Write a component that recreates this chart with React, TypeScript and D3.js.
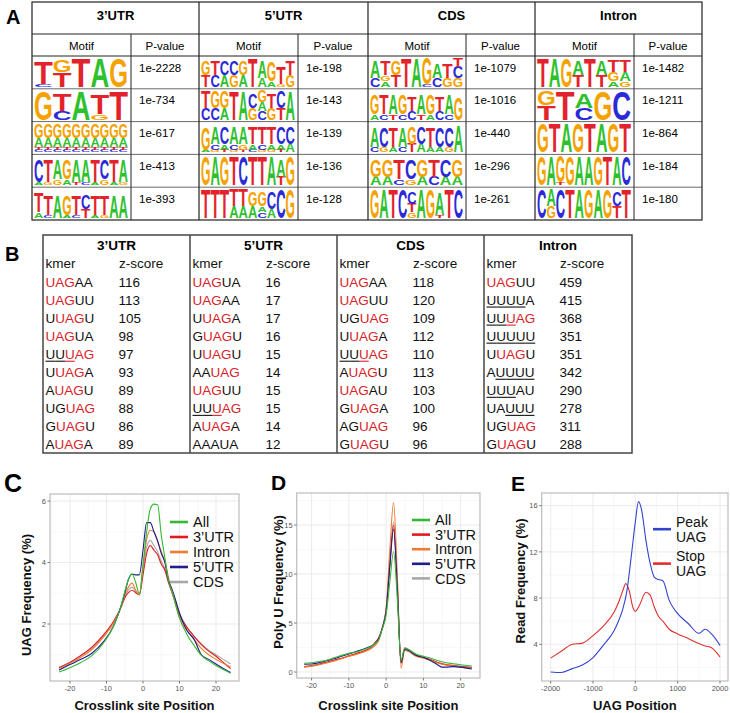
import * as d3 from "d3";

const FONT = "'Liberation Sans', Arial, Helvetica, sans-serif";
const RED = "#d8232a";
const INK = "#111";

// ---------- Panel A: motif logos (letter+weight per column, top letter first) ----------
const regions = ["3’UTR", "5’UTR", "CDS", "Intron"];

const motifs3UTR = [
  "T8C1 G4T5 T10 A10 G10",
  "G10 T6C3 A10 T7G2 T10",
  "G5A3T1C1 G5A3T1C1 G5A3T1C1 G5A3T1C1 G5A3T1C1 G5A3T1C1 G5A3T1C1 G5A3T1C1 G5A3T1C1 G5A3T1C1",
  "C8A1 T8G1 A7G2 G7A2 A8T1 A8C1 T8A1 C7G2 T8A1 A8G1",
  "T7A2 T7C1 A8 G7A1 T7C1 C5T3 T7A1 T7G1 A8 A8",
];
const pvals3UTR = ["1e-2228", "1e-734", "1e-617", "1e-413", "1e-393"];

const motifs5UTR = [
  "G5T4 T5C4 C5A4 C5G4 G5A4 T10 A6A3 G7A2 T6G1 T5G4",
  "T6C4 G6C4 G6A4 T10 A10 C5G4 G4A3C3 T5G4 C6T4 A10",
  "G8A1 A6C2G1 C6A2T1 A6C2G1 A6G2T1 T6A2C1 T6C2G1 T6A2G1 C6A2T1 C6A3",
  "G10 A10 G10 T10 C10 T10 T10 A10 A6T3 G10",
  "T10 T10 T10 T6A4 T6A4 G5A4 G5A2C2 C6A3 C10 G10",
];
const pvals5UTR = ["1e-198", "1e-143", "1e-139", "1e-136", "1e-128"];

const motifsCDS = [
  "A6C3 T5G2A2 G5T4 T10 A10 G9C1 A5C3 T5G3 T3C4G3",
  "G7A2 T7C2 A7T2 G7C2 T5C3 A7T2 G7A2 T5C3 A7C2 G8",
  "A7C2 C7G2 T7A2 A7C2 G6T3 C6A3 T7A2 C7A2 C7G2 A9",
  "G6A3 G6A3 T7C2 C7G2 G6A3 T6C3 C6A3 G6A3",
  "G10 A10 T10 C10 C4T3G2 A10 G10 A8T1 T10 C10",
];
const pvalsCDS = ["1e-1079", "1e-1016", "1e-440", "1e-296", "1e-261"];

const motifsIntron = [
  "T10 A10 G10 A5T4 T10 A5T4 T4G3A2 T4A3G2",
  "G5T5 T10 A5C4 G10 C10",
  "G10 T10 A10 G10 T10 A10 G10 T10",
  "G10 A10 G9T1 G10 A10 A10 G10 T10 A10 C10",
  "C10 A6G4 C10 T10 A10 G10 A10 G10 C5T4 T10",
];
const pvalsIntron = ["1e-1482", "1e-1211", "1e-864", "1e-184", "1e-180"];

const motifTable = [
  { motifs: motifs3UTR, pvals: pvals3UTR },
  { motifs: motifs5UTR, pvals: pvals5UTR },
  { motifs: motifsCDS, pvals: pvalsCDS },
  { motifs: motifsIntron, pvals: pvalsIntron },
];

// ---------- Panel B: kmer z-scores ----------
const kmers3UTR = ["UAGAA", "UAGUU", "UUAGU", "UAGUA", "UUUAG", "UUAGA", "AUAGU", "UGUAG", "GUAGU", "AUAGA"];
const z3UTR = [116, 113, 105, 98, 97, 93, 89, 88, 86, 89];
const kmers5UTR = ["UAGUA", "UAGAA", "UUAGA", "GUAGU", "UUAGU", "AAUAG", "UAGUU", "UUUAG", "AUAGA", "AAAUA"];
const z5UTR = [16, 17, 17, 16, 15, 14, 15, 15, 14, 12];
const kmersCDS = ["UAGAA", "UAGUU", "UGUAG", "UUAGA", "UUUAG", "AUAGU", "UAGAU", "GUAGA", "AGUAG", "GUAGU"];
const zCDS = [118, 120, 109, 112, 110, 113, 103, 100, 96, 96];
const kmersIntron = ["UAGUU", "UUUUA", "UUUAG", "UUUUU", "UUAGU", "AUUUU", "UUUAU", "UAUUU", "UGUAG", "GUAGU"];
const zIntron = [459, 415, 368, 351, 351, 342, 290, 278, 311, 288];

const kmerTable = [
  { kmers: kmers3UTR, z: z3UTR },
  { kmers: kmers5UTR, z: z5UTR },
  { kmers: kmersCDS, z: zCDS },
  { kmers: kmersIntron, z: zIntron },
];

// ---------- Panel C: UAG frequency ----------
const posC = [-23, -20, -17, -14, -11, -8, -6, -5, -4, -3, -2, -1, 0, 1, 2, 3, 4, 5, 6, 7, 8, 9, 10, 12, 14, 16, 18, 20, 22, 24];
const uagAll = [0.44, 0.58, 0.75, 0.97, 1.35, 1.95, 2.6, 3.05, 3.45, 3.63, 3.35, 2.97, 3.9, 5.0, 5.75, 5.9, 5.88, 4.9, 4.15, 3.4, 3.05, 2.6, 2.2, 1.67, 1.3, 0.98, 0.8, 0.65, 0.52, 0.4];
const uag3UTR = [0.58, 0.75, 0.98, 1.25, 1.62, 2.1, 2.55, 2.85, 3.02, 3.1, 3.02, 2.95, 3.6, 4.3, 4.55, 4.4, 4.25, 3.95, 3.75, 3.35, 3.0, 2.65, 2.3, 1.9, 1.6, 1.33, 1.12, 0.95, 0.75, 0.55];
const uagIntron = [0.55, 0.72, 0.92, 1.17, 1.55, 2.05, 2.55, 2.95, 3.2, 3.33, 3.1, 2.95, 3.9, 4.75, 5.05, 5.0, 4.7, 4.35, 4.05, 3.5, 3.05, 2.6, 2.2, 1.8, 1.5, 1.2, 1.0, 0.85, 0.72, 0.6];
const uag5UTR = [0.5, 0.68, 0.85, 1.05, 1.4, 1.95, 2.6, 3.0, 3.45, 3.62, 3.6, 3.6, 4.4, 5.3, 5.3, 5.0, 4.7, 4.3, 4.0, 3.4, 3.12, 2.75, 2.35, 1.8, 1.5, 1.0, 0.85, 0.7, 0.55, 0.42];
const uagCDS = [0.6, 0.76, 0.97, 1.22, 1.6, 2.08, 2.55, 2.9, 3.1, 3.2, 3.05, 2.95, 3.75, 4.5, 4.72, 4.55, 4.35, 4.05, 3.8, 3.35, 3.05, 2.7, 2.35, 1.9, 1.6, 1.35, 1.15, 1.0, 0.85, 0.7];

// ---------- Panel D: poly U frequency ----------
const posD = [-22, -20, -18, -16, -14, -12, -10, -8, -6, -4, -3, -2, -1, 0, 1, 2, 3, 4, 5, 6, 8, 10, 12, 14, 15, 16, 18, 20, 23];
const polyAll = [0.9, 0.95, 1.08, 1.2, 1.45, 1.7, 1.9, 2.05, 2.3, 2.6, 2.9, 3.3, 4.4, 5.8, 9.2, 12.3, 7.5, 1.2, 2.45, 2.3, 1.85, 1.6, 1.4, 1.15, 1.05, 0.95, 0.85, 0.75, 0.62];
const poly3UTR = [0.55, 0.65, 0.8, 1.0, 1.2, 1.4, 1.65, 1.9, 2.15, 2.55, 3.0, 3.5, 4.5, 6.3, 11.0, 15.0, 8.8, 0.9, 2.45, 2.3, 1.75, 1.5, 1.25, 0.95, 0.85, 0.75, 0.65, 0.55, 0.45];
const polyIntron = [0.5, 0.6, 0.75, 0.92, 1.12, 1.35, 1.6, 1.8, 2.05, 2.4, 2.7, 3.2, 4.6, 6.5, 12.5, 17.3, 9.9, 0.4, 2.2, 2.1, 1.6, 1.4, 1.2, 0.9, 0.8, 0.72, 0.6, 0.5, 0.4];
const poly5UTR = [0.8, 0.82, 0.95, 1.15, 1.35, 1.6, 1.85, 2.1, 2.35, 2.65, 2.9, 3.4, 4.5, 6.2, 10.8, 14.6, 8.6, 1.0, 2.3, 2.2, 1.7, 1.5, 1.15, 0.7, 0.5, 0.5, 0.55, 0.5, 0.3];
const polyCDS = [0.55, 0.62, 0.78, 0.95, 1.15, 1.38, 1.62, 1.85, 2.1, 2.5, 2.85, 3.4, 4.5, 6.3, 11.2, 15.3, 8.9, 1.0, 2.35, 2.25, 1.7, 1.45, 1.25, 0.95, 0.85, 0.78, 0.68, 0.6, 0.5];

// ---------- Panel E: read frequency around UAG ----------
const peakPos = [-2000, -1750, -1500, -1250, -1000, -750, -500, -400, -300, -200, -100, 0, 75, 150, 250, 350, 450, 550, 650, 800, 1000, 1250, 1500, 1650, 1800, 2000];
const peakUAG = [1.6, 1.55, 1.87, 2.2, 2.85, 3.95, 5.2, 6.0, 7.0, 8.6, 11.5, 14.6, 16.35, 15.6, 13.0, 11.0, 9.8, 9.6, 9.5, 7.8, 6.65, 5.8, 4.95, 5.3, 4.9, 3.9];
const stopPos = [-2000, -1750, -1500, -1250, -1000, -750, -500, -400, -300, -225, -150, -50, 0, 100, 250, 350, 450, 550, 650, 800, 1000, 1250, 1500, 1650, 1800, 2000];
const stopUAG = [2.8, 3.4, 3.98, 4.1, 4.75, 5.6, 6.8, 7.6, 8.6, 9.25, 8.7, 7.1, 6.85, 7.4, 8.5, 8.25, 7.2, 6.4, 6.0, 5.3, 4.9, 4.5, 4.06, 3.85, 3.7, 2.9];

const LETTER_COLOR: Record<string, string> = { A: "#2ec12e", C: "#2a2ad8", G: "#f5a200", T: "#e3232b" };
const CHAR_W: Record<string, number> = { A: 0.667, C: 0.722, G: 0.778, U: 0.722 };

function Logo({ x, y, w, h, motif }: { x: number; y: number; w: number; h: number; motif: string }) {
  const cols = motif.split(" ").map((c) =>
    Array.from(c.matchAll(/([ACGT])(\d+)/g)).map((m) => ({ l: m[1], v: +m[2] }))
  );
  const xs = d3.scaleBand<number>().domain(d3.range(cols.length)).range([x, x + w]);
  const hs = d3.scaleLinear().domain([0, 10]).range([0, h]);
  const out: JSX.Element[] = [];
  cols.forEach((col, i) => {
    let base = y + h;
    [...col].reverse().forEach((c, j) => {
      const lh = hs(c.v);
      out.push(
        <text key={`${i}-${j}`} x={xs(i)} y={base} fontSize={lh / 0.72} textLength={xs.bandwidth()}
          lengthAdjust="spacingAndGlyphs" fill={LETTER_COLOR[c.l]} fontWeight="bold" fontFamily={FONT}>
          {c.l}
        </text>
      );
      base -= lh;
    });
  });
  return <g>{out}</g>;
}

function Kmer({ x, y, s, fs }: { x: number; y: number; s: string; fs: number }) {
  const i = s.indexOf("UAG");
  const red = (k: number) => i >= 0 && k >= i && k < i + 3;
  const under = s.split("").map(() => false);
  for (const m of s.matchAll(/U{3,}/g)) for (let k = m.index!; k < m.index! + m[0].length; k++) under[k] = true;
  let off = 0;
  const lines: JSX.Element[] = [];
  s.split("").forEach((ch, k) => {
    const w = CHAR_W[ch] * fs;
    if (under[k]) lines.push(<line key={k} x1={x + off} x2={x + off + w} y1={y + 2.5} y2={y + 2.5} stroke={red(k) ? RED : INK} strokeWidth={1.1} />);
    off += w;
  });
  return (
    <g>
      <text x={x} y={y} fontSize={fs} fontFamily={FONT}>
        {s.split("").map((ch, k) => <tspan key={k} fill={red(k) ? RED : INK}>{ch}</tspan>)}
      </text>
      {lines}
    </g>
  );
}

function PanelA() {
  const groupX = [32, 199, 368, 535, 702];
  const subX = [131, 298, 466, 634];
  const rowY = d3.scaleLinear().domain([0, 5]).range([56, 220]);
  return (
    <g fontFamily={FONT}>
      <text x={6} y={24} fontSize={20} fontWeight="bold">A</text>
      {regions.map((r, g) => (
        <g key={r}>
          <text x={(groupX[g] + groupX[g + 1]) / 2} y={20} textAnchor="middle" fontSize={13} fontWeight="bold">{r}</text>
          <text x={(groupX[g] + subX[g]) / 2} y={50} textAnchor="middle" fontSize={11.5}>Motif</text>
          <text x={(subX[g] + groupX[g + 1]) / 2} y={50} textAnchor="middle" fontSize={11.5}>P-value</text>
          {motifTable[g].motifs.map((m, i) => (
            <g key={i}>
              <Logo x={groupX[g] + 2} y={rowY(i) + 2} w={subX[g] - groupX[g] - 5} h={rowY(i + 1) - rowY(i) - 4} motif={m} />
              <text x={subX[g] + 8} y={rowY(i) + 15.5} fontSize={11.5}>{motifTable[g].pvals[i]}</text>
            </g>
          ))}
          <line x1={subX[g]} x2={subX[g]} y1={34} y2={220} stroke="#222" />
        </g>
      ))}
      {d3.range(1, 5).map((i) => (
        <line key={i} x1={32} x2={702} y1={rowY(i)} y2={rowY(i)} stroke="#444" strokeWidth={0.8} />
      ))}
      <line x1={32} x2={702} y1={34} y2={34} stroke="#222" />
      <line x1={32} x2={702} y1={56} y2={56} stroke="#222" />
      {groupX.slice(1, 4).map((gx) => <line key={gx} x1={gx} x2={gx} y1={2} y2={220} stroke="#222" strokeWidth={1.2} />)}
      <rect x={32} y={2} width={670} height={218} fill="none" stroke="#222" strokeWidth={1.2} />
    </g>
  );
}

function PanelB() {
  const colX = [43, 190, 337, 484, 632];
  const rowY = d3.scaleLinear().domain([0, 9]).range([286.5, 449]);
  return (
    <g fontFamily={FONT}>
      <text x={5} y={261} fontSize={20} fontWeight="bold">B</text>
      {regions.map((r, g) => (
        <g key={r}>
          <text x={(colX[g] + colX[g + 1]) / 2} y={250} textAnchor="middle" fontSize={13.5} fontWeight="bold">{r}</text>
          <text x={colX[g] + 2.5} y={267.5} fontSize={13.5} fill={INK}>kmer</text>
          <text x={colX[g] + 76} y={267.5} fontSize={13.5} fill={INK}>z-score</text>
          {kmerTable[g].kmers.map((k, i) => (
            <g key={i}>
              <Kmer x={colX[g] + 2.5} y={rowY(i)} s={k} fs={13.5} />
              <text x={colX[g] + 75.5} y={rowY(i)} fontSize={13.5} fill={INK}>{kmerTable[g].z[i]}</text>
            </g>
          ))}
        </g>
      ))}
      {colX.slice(1, 4).map((cx) => <line key={cx} x1={cx} x2={cx} y1={235} y2={453} stroke="#444" strokeWidth={1.5} />)}
      <rect x={43} y={235} width={589} height={218} fill="none" stroke="#444" strokeWidth={1.5} />
    </g>
  );
}

interface Series { name: string; color: string; x: number[]; y: number[] }

interface PanelProps {
  box: [number, number, number, number];
  xDomain: [number, number];
  yDomain: [number, number];
  xTicks: number[];
  yTicks: number[];
  xMinor: number[];
  yMinor: number[];
  series: Series[];
  xTitle: string;
  yTitle: string;
  yTitlePos: [number, number];
  label: string;
  labelPos: [number, number, number];
  legend: { x: number; y: number; step: number; fs: number; items: { text: string[]; color: string }[] };
}

function LinePanel(p: PanelProps) {
  const [l, t, r, b] = p.box;
  const x = d3.scaleLinear().domain(p.xDomain).range([l, r]);
  const y = d3.scaleLinear().domain(p.yDomain).range([b, t]);
  const grid = "#ebebeb";
  const minor = "#f4f4f4";
  let ly = p.legend.y;
  return (
    <g fontFamily={FONT}>
      <text x={p.labelPos[0]} y={p.labelPos[1]} fontSize={p.labelPos[2]} fontWeight="bold">{p.label}</text>
      <rect x={l} y={t} width={r - l} height={b - t} fill="#fff" />
      {p.xMinor.map((v) => <line key={"xm" + v} x1={x(v)} x2={x(v)} y1={t} y2={b} stroke={minor} strokeWidth={0.6} />)}
      {p.yMinor.map((v) => <line key={"ym" + v} x1={l} x2={r} y1={y(v)} y2={y(v)} stroke={minor} strokeWidth={0.6} />)}
      {p.xTicks.map((v) => <line key={"xg" + v} x1={x(v)} x2={x(v)} y1={t} y2={b} stroke={grid} strokeWidth={1} />)}
      {p.yTicks.map((v) => <line key={"yg" + v} x1={l} x2={r} y1={y(v)} y2={y(v)} stroke={grid} strokeWidth={1} />)}
      {p.series.map((s) => {
        const line = d3.line<number>().x((_, i) => x(s.x[i])).y((v) => y(v)).curve(d3.curveMonotoneX);
        return <path key={s.name} d={line(s.y) ?? ""} fill="none" stroke={s.color} strokeWidth={1.1} />;
      })}
      <rect x={l} y={t} width={r - l} height={b - t} fill="none" stroke="#bdbdbd" strokeWidth={1.2} />
      {p.xTicks.map((v) => (
        <g key={"xt" + v}>
          <line x1={x(v)} x2={x(v)} y1={b} y2={b + 2.5} stroke="#777" />
          <text x={x(v)} y={b + 10} textAnchor="middle" fontSize={7.5} fill="#555">{v}</text>
        </g>
      ))}
      {p.yTicks.map((v) => (
        <g key={"yt" + v}>
          <line x1={l - 2.5} x2={l} y1={y(v)} y2={y(v)} stroke="#777" />
          <text x={l - 4} y={y(v)} dy="0.35em" textAnchor="end" fontSize={7.5} fill="#555">{v}</text>
        </g>
      ))}
      <text x={(l + r) / 2} y={710} textAnchor="middle" fontSize={13} fontWeight="bold" fill={INK}>{p.xTitle}</text>
      <text transform={`translate(${p.yTitlePos[0]},${p.yTitlePos[1]}) rotate(-90)`} textAnchor="middle" fontSize={13} fontWeight="bold" fill={INK}>{p.yTitle}</text>
      {p.legend.items.map((it) => {
        const n = it.text.length;
        const cy = ly + ((n - 1) * p.legend.fs * 1.1) / 2;
        const g = (
          <g key={it.text.join("")}>
            <line x1={p.legend.x} x2={p.legend.x + 18} y1={cy} y2={cy} stroke={it.color} strokeWidth={2.6} />
            {it.text.map((tx, k) => (
              <text key={k} x={p.legend.x + 23} y={ly + k * p.legend.fs * 1.1} dy="0.36em" fontSize={p.legend.fs} fill={INK}>{tx}</text>
            ))}
          </g>
        );
        ly += p.legend.step + (n - 1) * p.legend.fs * 1.1;
        return g;
      })}
    </g>
  );
}

const GREEN = "#35b835";
const RED3 = "#e31a1c";
const ORANGE = "#f07a30";
const NAVY = "#1e1e8c";
const GRAY = "#a8a8a8";

export default function App() {
  const seriesC: Series[] = [
    { name: "CDS", color: GRAY, x: posC, y: uagCDS },
    { name: "3UTR", color: RED3, x: posC, y: uag3UTR },
    { name: "Intron", color: ORANGE, x: posC, y: uagIntron },
    { name: "5UTR", color: NAVY, x: posC, y: uag5UTR },
    { name: "All", color: GREEN, x: posC, y: uagAll },
  ];
  const seriesD: Series[] = [
    { name: "CDS", color: GRAY, x: posD, y: polyCDS },
    { name: "3UTR", color: RED3, x: posD, y: poly3UTR },
    { name: "Intron", color: ORANGE, x: posD, y: polyIntron },
    { name: "5UTR", color: NAVY, x: posD, y: poly5UTR },
    { name: "All", color: GREEN, x: posD, y: polyAll },
  ];
  const legendCD = [
    { text: ["All"], color: GREEN },
    { text: ["3’UTR"], color: RED3 },
    { text: ["Intron"], color: ORANGE },
    { text: ["5’UTR"], color: NAVY },
    { text: ["CDS"], color: GRAY },
  ];
  return (
    <svg width={730} height={713} style={{ position: "absolute", left: 0, top: 0, background: "#fff" }}>
      <PanelA />
      <PanelB />
      <LinePanel
        box={[50, 494, 239, 681]}
        xDomain={[-25.48, 26.3]}
        yDomain={[0.146, 6.23]}
        xTicks={[-20, -10, 0, 10, 20]}
        yTicks={[2, 4, 6]}
        xMinor={[-25, -15, -5, 5, 15, 25]}
        yMinor={[1, 3, 5]}
        series={seriesC}
        xTitle="Crosslink site Position"
        yTitle="UAG Frequency (%)"
        yTitlePos={[31, 595]}
        label="C"
        labelPos={[4, 492, 25]}
        legend={{ x: 170, y: 522, step: 15, fs: 14.5, items: legendCD }}
      />
      <LinePanel
        box={[296.7, 493, 480, 678]}
        xDomain={[-24.0, 25.2]}
        yDomain={[-0.61, 18.27]}
        xTicks={[-20, -10, 0, 10, 20]}
        yTicks={[0, 5, 10, 15]}
        xMinor={[-15, -5, 5, 15, 25]}
        yMinor={[2.5, 7.5, 12.5, 17.5]}
        series={seriesD}
        xTitle="Crosslink site Position"
        yTitle="Poly U Frequency (%)"
        yTitlePos={[283, 582]}
        label="D"
        labelPos={[271, 490, 21]}
        legend={{ x: 412, y: 520, step: 14.6, fs: 14.5, items: legendCD }}
      />
      <LinePanel
        box={[541.7, 493, 728, 681]}
        xDomain={[-2212, 2189]}
        yDomain={[0.82, 17.1]}
        xTicks={[-2000, -1000, 0, 1000, 2000]}
        yTicks={[4, 8, 12, 16]}
        xMinor={[-1500, -500, 500, 1500]}
        yMinor={[2, 6, 10, 14]}
        series={[
          { name: "Stop", color: "#e0302e", x: stopPos, y: stopUAG },
          { name: "Peak", color: "#3344cc", x: peakPos, y: peakUAG },
        ]}
        xTitle="UAG Position"
        yTitle="Read Frequency (%)"
        yTitlePos={[525, 581]}
        label="E"
        labelPos={[511, 491, 21]}
        legend={{ x: 653, y: 521.5, step: 19, fs: 14, items: [
          { text: ["Peak", "UAG"], color: "#3344cc" },
          { text: ["Stop", "UAG"], color: "#e0302e" },
        ] }}
      />
    </svg>
  );
}
